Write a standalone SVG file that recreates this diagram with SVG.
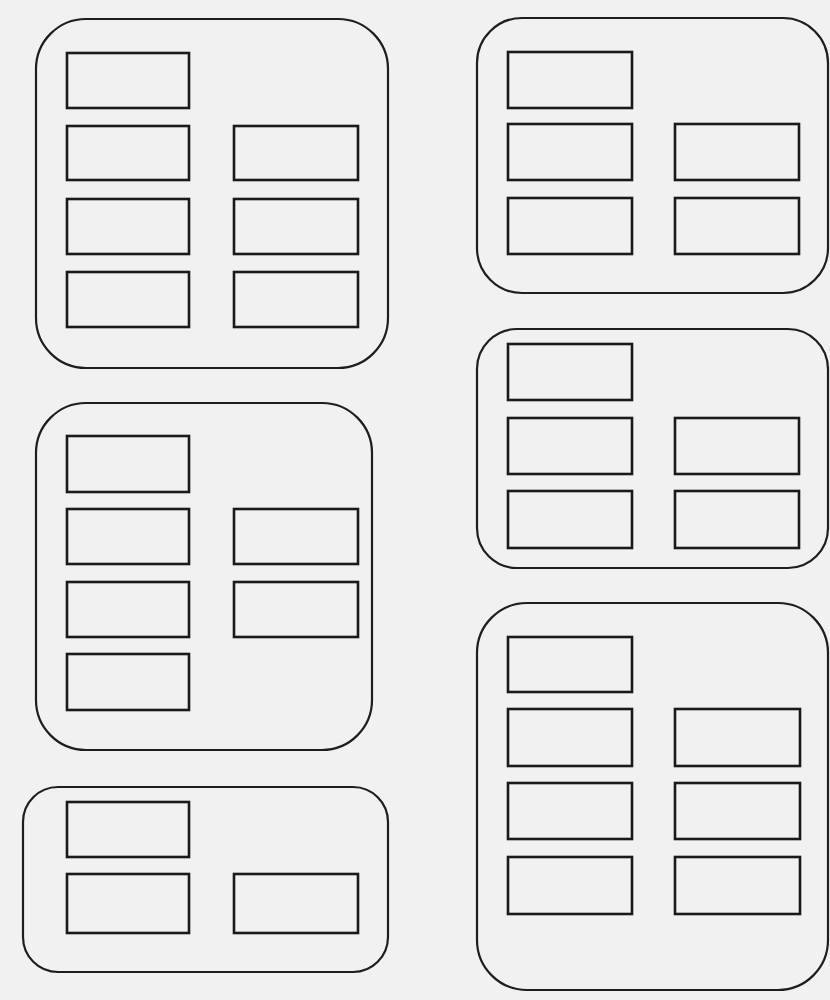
<svg xmlns="http://www.w3.org/2000/svg" width="830" height="1000" viewBox="0 0 830 1000">
<style>
.outer{fill:none;stroke:#1e1e1e;stroke-width:2.2}
.cell{fill:none;stroke:#1a1a1a;stroke-width:2.6}
</style>
<rect x="0" y="0" width="830" height="1000" fill="#f1f1f1"/>
<g id="group1">
<rect class="outer" x="36" y="19" width="352" height="349" rx="50"/>
<rect class="cell" x="67" y="53" width="122" height="55"/>
<rect class="cell" x="67" y="126" width="122" height="54"/>
<rect class="cell" x="234" y="126" width="124" height="54"/>
<rect class="cell" x="67" y="199" width="122" height="55"/>
<rect class="cell" x="234" y="199" width="124" height="55"/>
<rect class="cell" x="67" y="272" width="122" height="55"/>
<rect class="cell" x="234" y="272" width="124" height="55"/>
</g>
<g id="group2">
<rect class="outer" x="477" y="18" width="351" height="275" rx="45"/>
<rect class="cell" x="508" y="52" width="124" height="56"/>
<rect class="cell" x="508" y="124" width="124" height="56"/>
<rect class="cell" x="675" y="124" width="124" height="56"/>
<rect class="cell" x="508" y="198" width="124" height="56"/>
<rect class="cell" x="675" y="198" width="124" height="56"/>
</g>
<g id="group3">
<rect class="outer" x="36" y="403" width="336" height="347" rx="50"/>
<rect class="cell" x="67" y="436" width="122" height="56"/>
<rect class="cell" x="67" y="509" width="122" height="55"/>
<rect class="cell" x="234" y="509" width="124" height="55"/>
<rect class="cell" x="67" y="582" width="122" height="55"/>
<rect class="cell" x="234" y="582" width="124" height="55"/>
<rect class="cell" x="67" y="654" width="122" height="56"/>
</g>
<g id="group4">
<rect class="outer" x="477" y="329" width="351" height="239" rx="40"/>
<rect class="cell" x="508" y="344" width="124" height="56"/>
<rect class="cell" x="508" y="418" width="124" height="56"/>
<rect class="cell" x="675" y="418" width="124" height="56"/>
<rect class="cell" x="508" y="491" width="124" height="57"/>
<rect class="cell" x="675" y="491" width="124" height="57"/>
</g>
<g id="group5">
<rect class="outer" x="23" y="787" width="365" height="185" rx="35"/>
<rect class="cell" x="67" y="802" width="122" height="55"/>
<rect class="cell" x="67" y="874" width="122" height="59"/>
<rect class="cell" x="234" y="874" width="124" height="59"/>
</g>
<g id="group6">
<rect class="outer" x="477" y="603" width="351" height="387" rx="50"/>
<rect class="cell" x="508" y="637" width="124" height="55"/>
<rect class="cell" x="508" y="709" width="124" height="57"/>
<rect class="cell" x="675" y="709" width="125" height="57"/>
<rect class="cell" x="508" y="783" width="124" height="56"/>
<rect class="cell" x="675" y="783" width="125" height="56"/>
<rect class="cell" x="508" y="857" width="124" height="57"/>
<rect class="cell" x="675" y="857" width="125" height="57"/>
</g>
<g id="connectors"></g>
</svg>
